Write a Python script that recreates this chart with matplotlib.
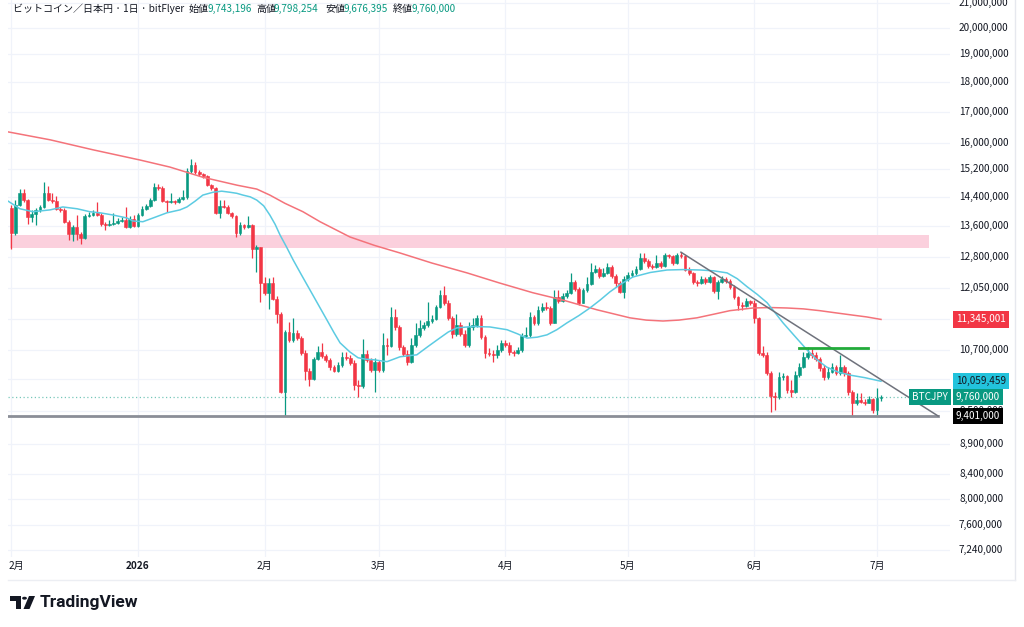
import numpy as np
import pandas as pd
import matplotlib
matplotlib.use("Agg")
import matplotlib.pyplot as plt
import matplotlib.transforms as mtrans
from matplotlib.patches import Polygon, Circle

plt.rcParams['font.family'] = ['Noto Sans CJK JP', 'DejaVu Sans']

# ---------------- data (prices in million JPY, daily candles) ----------------
start_date = "2025-12-01"

opens = [
    14.09, 13.42, 14.17, 14.51, 14.31, 13.85, 13.93, 14.04, 14.12, 14.51,
    14.31, 14.28, 14.07, 14.04, 13.72, 13.40, 13.58, 13.40, 13.29, 13.88,
    13.90, 13.96, 13.90, 13.66, 13.63, 13.66, 13.69, 13.74, 13.77, 13.58,
    13.80, 13.61, 13.90, 14.07, 14.15, 14.31, 14.68, 14.65, 14.28, 14.26,
    14.28, 14.26, 14.34, 14.40, 15.14, 15.32, 15.11, 15.05, 14.99, 14.73,
    14.65, 13.96, 14.15, 14.12, 13.96, 13.88, 13.42, 13.63, 13.58, 13.63,
    13.01, 13.06, 12.18, 11.95, 12.18, 11.81, 11.47, 9.85, 11.07, 10.90,
    11.05, 10.94, 10.63, 10.26, 10.10, 10.51, 10.65, 10.57, 10.49, 10.34,
    10.26, 10.38, 10.55, 10.53, 10.42, 9.99, 9.97, 10.61, 10.49, 10.28,
    10.45, 10.28, 10.80, 10.78, 11.40, 11.18, 10.76, 10.61, 10.45, 10.80,
    11.01, 11.16, 11.23, 11.31, 11.36, 11.63, 11.90, 11.72, 11.38, 11.03,
    11.23, 11.03, 10.80, 11.18, 11.23, 11.38, 10.97, 10.63, 10.61, 10.59,
    10.69, 10.84, 10.80, 10.65, 10.63, 10.69, 10.99, 11.01, 11.40, 11.27,
    11.56, 11.63, 11.60, 11.27, 11.85, 11.76, 11.88, 11.95, 12.20, 12.04,
    11.72, 12.02, 12.16, 12.44, 12.51, 12.35, 12.42, 12.56, 12.35, 12.18,
    11.97, 12.27, 12.37, 12.42, 12.51, 12.79, 12.71, 12.59, 12.56, 12.66,
    12.59, 12.86, 12.84, 12.66, 12.86, 12.84, 12.49, 12.42, 12.20, 12.18,
    12.27, 12.20, 12.32, 11.99, 12.20, 12.27, 12.23, 12.09, 11.85, 11.67,
    11.65, 11.76, 11.72, 11.38, 10.63, 10.59, 10.22, 9.78, 9.76, 10.14,
    10.16, 9.89, 9.85, 10.18, 10.34, 10.55, 10.63, 10.59, 10.51, 10.32,
    10.14, 10.24, 10.34, 10.22, 10.34, 10.22, 9.85, 9.65, 9.70, 9.66,
    9.65, 9.72, 9.51, 9.743196,
]
highs = [
    14.17, 14.31, 14.62, 14.62, 14.34, 14.04, 14.09, 14.17, 14.82, 14.70,
    14.51, 14.42, 14.12, 14.09, 13.77, 13.63, 13.90, 13.45, 13.93, 13.99,
    14.04, 14.26, 13.96, 13.72, 13.77, 13.96, 13.82, 13.85, 14.12, 13.88,
    13.90, 13.96, 14.15, 14.20, 14.37, 14.79, 14.76, 14.70, 14.31, 14.51,
    14.31, 14.40, 14.59, 15.23, 15.50, 15.41, 15.17, 15.08, 15.02, 14.76,
    14.68, 14.31, 14.31, 14.17, 13.99, 13.90, 13.72, 13.66, 13.88, 13.66,
    13.11, 13.06, 12.32, 12.30, 12.32, 11.88, 11.51, 11.12, 11.29, 11.38,
    11.12, 10.99, 10.69, 10.32, 10.55, 10.78, 10.84, 10.61, 10.53, 10.38,
    10.45, 10.65, 10.65, 10.59, 10.49, 10.08, 10.92, 10.69, 10.53, 10.53,
    10.49, 11.05, 10.94, 11.63, 11.58, 11.23, 10.80, 10.69, 10.94, 11.27,
    11.33, 11.29, 11.74, 11.44, 11.67, 12.02, 12.11, 11.78, 11.42, 11.47,
    11.29, 11.12, 11.29, 11.38, 11.44, 11.44, 11.01, 10.73, 10.69, 10.80,
    10.90, 10.90, 10.86, 10.69, 10.76, 11.05, 11.18, 11.51, 11.44, 11.65,
    11.72, 11.74, 11.65, 12.02, 12.02, 11.95, 12.02, 12.42, 12.25, 12.09,
    12.06, 12.32, 12.66, 12.61, 12.56, 12.54, 12.66, 12.61, 12.39, 12.23,
    12.35, 12.44, 12.49, 12.59, 12.91, 12.91, 12.76, 12.64, 12.86, 12.71,
    12.91, 12.89, 12.86, 12.91, 12.94, 12.86, 12.56, 12.44, 12.25, 12.35,
    12.32, 12.37, 12.35, 12.25, 12.35, 12.32, 12.27, 12.13, 11.88, 11.74,
    11.83, 11.78, 11.78, 11.40, 10.78, 10.65, 10.26, 9.85, 10.24, 10.22,
    10.18, 10.08, 10.26, 10.42, 10.65, 10.76, 10.73, 10.65, 10.55, 10.38,
    10.34, 10.42, 10.38, 10.59, 10.38, 10.26, 9.89, 9.83, 9.83, 9.72,
    9.78, 9.74, 9.93, 9.798254,
]
lows = [
    13.01, 13.37, 14.15, 14.26, 13.66, 13.72, 13.63, 13.99, 14.09, 14.28,
    14.23, 14.04, 13.99, 13.69, 13.24, 13.21, 13.24, 13.14, 13.27, 13.85,
    13.88, 13.88, 13.61, 13.50, 13.61, 13.63, 13.66, 13.72, 13.55, 13.55,
    13.58, 13.58, 13.88, 14.04, 14.12, 14.28, 14.59, 14.26, 13.99, 14.23,
    14.20, 14.23, 14.31, 14.34, 15.08, 15.05, 14.99, 14.94, 14.70, 14.59,
    13.93, 13.82, 14.09, 13.93, 13.82, 13.32, 13.37, 13.53, 13.55, 12.79,
    12.44, 11.74, 11.90, 11.58, 11.78, 11.27, 9.83, 9.40, 10.86, 10.86,
    10.90, 10.59, 10.08, 9.97, 10.08, 10.49, 10.53, 10.45, 10.28, 10.24,
    10.24, 10.34, 10.49, 10.38, 9.89, 9.76, 9.93, 10.45, 10.24, 9.85,
    10.24, 10.24, 10.59, 10.76, 11.12, 10.69, 10.57, 10.38, 10.42, 10.76,
    10.97, 11.12, 11.18, 11.27, 11.33, 11.60, 11.67, 11.33, 10.94, 10.99,
    10.99, 10.76, 10.76, 11.12, 11.18, 10.92, 10.53, 10.57, 10.45, 10.53,
    10.65, 10.76, 10.59, 10.57, 10.61, 10.65, 10.97, 10.97, 11.23, 11.23,
    11.51, 11.56, 11.23, 11.27, 11.72, 11.74, 11.83, 11.92, 11.99, 11.67,
    11.72, 11.97, 12.13, 12.42, 12.30, 12.32, 12.39, 12.30, 12.09, 11.95,
    11.83, 12.23, 12.32, 12.37, 12.49, 12.66, 12.54, 12.51, 12.54, 12.54,
    12.56, 12.79, 12.61, 12.64, 12.79, 12.47, 12.37, 12.16, 12.11, 12.16,
    12.16, 12.18, 11.95, 11.81, 12.18, 12.18, 12.04, 11.81, 11.56, 11.56,
    11.63, 11.67, 11.27, 10.59, 10.55, 10.18, 9.47, 9.51, 9.72, 10.08,
    9.83, 9.76, 9.83, 10.14, 10.32, 10.51, 10.53, 10.47, 10.26, 10.08,
    10.10, 10.22, 10.18, 10.18, 10.16, 9.80, 9.40, 9.61, 9.65, 9.61,
    9.65, 9.45, 9.42, 9.676395,
]
closes = [
    13.42, 14.17, 14.51, 14.31, 13.85, 13.93, 14.04, 14.12, 14.51, 14.31,
    14.28, 14.07, 14.04, 13.72, 13.40, 13.58, 13.40, 13.29, 13.88, 13.90,
    13.96, 13.90, 13.66, 13.63, 13.66, 13.69, 13.74, 13.77, 13.58, 13.80,
    13.61, 13.90, 14.07, 14.15, 14.31, 14.68, 14.65, 14.28, 14.26, 14.28,
    14.26, 14.34, 14.40, 15.14, 15.32, 15.11, 15.05, 14.99, 14.73, 14.65,
    13.96, 14.15, 14.12, 13.96, 13.88, 13.42, 13.63, 13.58, 13.63, 13.01,
    13.06, 12.18, 11.95, 12.18, 11.81, 11.47, 9.85, 11.07, 10.90, 11.05,
    10.94, 10.63, 10.26, 10.10, 10.51, 10.65, 10.57, 10.49, 10.34, 10.26,
    10.38, 10.55, 10.53, 10.42, 9.99, 9.97, 10.61, 10.49, 10.28, 10.45,
    10.28, 10.80, 10.78, 11.40, 11.18, 10.76, 10.61, 10.45, 10.80, 11.01,
    11.16, 11.23, 11.31, 11.36, 11.63, 11.90, 11.72, 11.38, 11.03, 11.23,
    11.03, 10.80, 11.18, 11.23, 11.38, 10.97, 10.63, 10.61, 10.59, 10.69,
    10.84, 10.80, 10.65, 10.63, 10.69, 10.99, 11.01, 11.40, 11.27, 11.56,
    11.63, 11.60, 11.27, 11.85, 11.76, 11.88, 11.95, 12.20, 12.04, 11.72,
    12.02, 12.16, 12.44, 12.51, 12.35, 12.42, 12.56, 12.35, 12.18, 11.97,
    12.27, 12.37, 12.42, 12.51, 12.79, 12.71, 12.59, 12.56, 12.66, 12.59,
    12.86, 12.84, 12.66, 12.86, 12.84, 12.49, 12.42, 12.20, 12.18, 12.27,
    12.20, 12.32, 11.99, 12.20, 12.27, 12.23, 12.09, 11.85, 11.67, 11.65,
    11.76, 11.72, 11.38, 10.63, 10.59, 10.22, 9.78, 9.76, 10.14, 10.16,
    9.89, 9.85, 10.18, 10.34, 10.55, 10.63, 10.59, 10.51, 10.32, 10.14,
    10.24, 10.34, 10.22, 10.34, 10.22, 9.85, 9.65, 9.70, 9.66, 9.65,
    9.72, 9.51, 9.743196, 9.76,
]

# moving averages (day index, value)
ma_short_day = [-0.8, 2.1, 5.3, 9.5, 12.6, 16.1, 19.2, 21.7, 24.9, 28.3, 29.8, 32.2, 34.7,
                38.1, 41.3, 43.0, 45.0, 46.9, 49.4, 51.5, 53.5, 55.2, 56.7, 58.5, 60.1,
                61.8, 63.3, 64.6, 65.8, 67.4, 69.0, 71.0, 73.1, 75.2, 77.3, 79.0, 80.5,
                82.9, 84.9, 86.8, 88.6, 92.0, 95.2, 99.3, 102.0, 104.9, 107.0, 109.1,
                113.0, 117.2, 121.4, 124.0, 126.3, 128.8, 131.2, 133.6, 136.1, 139.0,
                141.7, 144.2, 146.6, 149.4, 152.2, 156.5, 160.6, 164.5, 168.7, 172.0,
                175.3, 177.8, 180.2, 182.7, 185.1, 187.0, 189.0, 192.0, 194.9, 197.3,
                199.7, 202.5, 205.4, 209.0, 213.0]
ma_short_val = [14.28, 14.07, 13.99, 14.04, 14.12, 14.07, 13.99, 13.96, 13.90, 13.82, 13.74,
                13.72, 13.82, 13.96, 14.04, 14.12, 14.28, 14.45, 14.53, 14.56, 14.53, 14.50,
                14.45, 14.40, 14.31, 14.15, 13.90, 13.65, 13.37, 13.06, 12.74, 12.38, 12.02,
                11.67, 11.33, 11.06, 10.84, 10.65, 10.53, 10.50, 10.49, 10.45, 10.55, 10.59,
                10.76, 10.94, 11.07, 11.16, 11.19, 11.18, 11.12, 11.03, 10.94, 10.96, 11.01,
                11.12, 11.27, 11.43, 11.60, 11.78, 11.97, 12.16, 12.32, 12.43, 12.49, 12.50,
                12.49, 12.47, 12.42, 12.28, 12.09, 11.91, 11.72, 11.50, 11.27, 10.97, 10.69,
                10.49, 10.34, 10.24, 10.18, 10.13, 10.059459]
ma_long_day = [-0.8, 9.5, 20.0, 31.5, 38.8, 46.9, 55.3, 60.1, 63.3, 67.0, 71.4, 75.6, 82.9,
               89.0, 95.2, 103.0, 111.6, 119.5, 127.7, 135.1, 143.4, 151.5, 155.5, 159.6,
               163.5, 167.9, 172.0, 176.0, 181.6, 186.0, 190.0, 194.0, 198.0, 202.0, 206.1,
               209.5, 213.0]
ma_long_val = [16.34, 16.09, 15.78, 15.47, 15.26, 14.96, 14.73, 14.62, 14.45, 14.22, 13.99,
               13.72, 13.32, 13.10, 12.91, 12.66, 12.42, 12.18, 11.95, 11.78, 11.56, 11.38,
               11.33, 11.31, 11.33, 11.38, 11.46, 11.54, 11.60, 11.61, 11.60, 11.58, 11.54,
               11.49, 11.44, 11.40, 11.345001]

zone_low, zone_high = 13.03, 13.36
zone_days = (-0.35, 224.7)
trend_days = (164, 227)
trend_vals = (12.93, 9.401)
green_level = 10.74
green_days = (193, 209.8)
support_level = 9.401
support_end_day = 227

price_ticks = [21.0, 20.0, 19.0, 18.0, 17.0, 16.0, 15.2, 14.4, 13.6, 12.8, 12.05,
               10.7, 9.5, 8.9, 8.4, 8.0, 7.6, 7.24]
grid_extra = [11.35, 10.1]
month_dates = ["2025-12-01", "2026-01-01", "2026-02-01", "2026-03-01", "2026-04-01",
               "2026-05-01", "2026-06-01", "2026-07-01"]
month_labels = ["2月", "2026", "2月", "3月", "4月", "5月", "6月", "7月"]

# ---------------- figure ----------------
W, H = 1024, 627
M = 1e6
UP, DN = "#089981", "#f23645"
TXT = "#131722"
GRID = "#f0f3fa"

fig = plt.figure(figsize=(W / 100, H / 100), dpi=100, facecolor="white")
ax = fig.add_axes([8 / W, 1 - 557 / H, 942 / W, 557 / H])
ax.set_yscale("log")
ax.set_ylim(7.146 * M, 21.12 * M)
ax.set_xlim(-0.83, 229.9)
for s in ax.spines.values():
    s.set_visible(False)
ax.set_xticks([])
ax.set_yticks([])
ax.yaxis.set_minor_locator(matplotlib.ticker.NullLocator())

o = np.array(opens) * M
h = np.array(highs) * M
l = np.array(lows) * M
c = np.array(closes) * M
n = len(c)
dates = pd.date_range(start_date, periods=n, freq="D")
x = np.arange(n)
t0 = pd.Timestamp(start_date)
month_idx = [(pd.Timestamp(d) - t0).days for d in month_dates]

# grid
for p in price_ticks + grid_extra:
    ax.axhline(p * M, color=GRID, lw=0.9, zorder=0)
for mi in month_idx:
    ax.axvline(mi, color=GRID, lw=0.9, zorder=0)

# zone
ax.fill_between(list(zone_days), zone_low * M, zone_high * M, color="#fbd0dd", lw=0, zorder=1)

# MAs
ax.plot(ma_long_day, np.array(ma_long_val) * M, color="#f4737a", lw=1.1, zorder=5)
ax.plot(ma_short_day, np.array(ma_short_val) * M, color="#5ccbe2", lw=1.1, zorder=5)

# candles
up = c >= o
cols = np.where(up, UP, DN)
ax.vlines(x, l, h, colors=cols, lw=0.9, zorder=3)
ax.bar(x, np.abs(c - o), bottom=np.minimum(o, c), width=0.68, color=cols,
       edgecolor=cols, linewidth=0.4, zorder=4)

# last price dotted line
ax.axhline(c[-1], color=UP, ls=(0, (1, 2)), lw=0.9, alpha=0.55, zorder=2)

# support line
ax.plot([ax.get_xlim()[0], support_end_day], [support_level * M] * 2, color="#8b8e97", lw=2.0, zorder=6)
# trend line
ax.plot(list(trend_days), np.array(trend_vals) * M, color="#6f727c", lw=1.1, zorder=6)
# green level
ax.plot(list(green_days), [green_level * M] * 2, color="#22ab3a", lw=2.0, zorder=6)

# ---------------- price axis ----------------
ytr = mtrans.blended_transform_factory(fig.transFigure, ax.transData)
for p in price_ticks:
    ax.text(959 / W, p * M, f"{round(p * M):,}", transform=ytr, ha="left", va="center",
            fontsize=7.2, color=TXT, clip_on=False, zorder=10)

def tag(val, fc, tc):
    ax.text(956 / W, val, f"{round(val):,}", transform=ytr, ha="left",
            va="center", fontsize=7.2, color=tc, clip_on=False, zorder=20,
            bbox=dict(boxstyle="square,pad=0.32", fc=fc, ec="none"))

tag(ma_long_val[-1] * M, "#f23645", "white")
tag(ma_short_val[-1] * M, "#22c3dc", TXT)
tag(c[-1], UP, "white")
tag(support_level * M, "#000000", "white")
ax.text(948 / W, c[-1], "BTCJPY", transform=ytr, ha="right", va="center", fontsize=7.2,
        color="white", clip_on=False, zorder=20,
        bbox=dict(boxstyle="square,pad=0.32", fc=UP, ec="none"))

# ---------------- time axis ----------------
xtr = mtrans.blended_transform_factory(ax.transData, fig.transFigure)
for k, (mi, lab) in enumerate(zip(month_idx, month_labels)):
    if k == 0:
        ax.text(ax.get_xlim()[0] + 0.2, 1 - 566 / H, lab, transform=xtr, ha="left", va="center",
                fontsize=7.2, color=TXT, clip_on=False)
    else:
        ax.text(mi, 1 - 566 / H, lab, transform=xtr, ha="center", va="center",
                fontsize=7.2, color=TXT, clip_on=False,
                fontweight="bold" if lab == "2026" else "normal")

# frame lines
fig.add_artist(plt.Line2D([1015 / W, 1015 / W], [1 - 580 / H, 1], transform=fig.transFigure,
                          color="#e6e8ee", lw=1))
fig.add_artist(plt.Line2D([8 / W, 1015 / W], [1 - 580 / H, 1 - 580 / H], transform=fig.transFigure,
                          color="#eceef3", lw=1))

# ---------------- title ----------------
def ftext(xp, yp, s, **kw):
    fig.text(xp / W, 1 - yp / H, s, va="center", ha="left", fontsize=7.2, **kw)

ftext(13, 9, "ビットコイン／日本円 · 1日 · bitFlyer", color=TXT)
pieces = [("始値", o[-1], 189), ("高値", h[-1], 256), ("安値", l[-1], 325), ("終値", c[-1], 393)]
for lab, v, xp in pieces:
    ftext(xp, 9, lab, color=TXT)
    ftext(xp + 18, 9, f"{round(v):,}", color=UP)

# ---------------- TradingView logo ----------------
def P(xp, yp):
    return (xp / W, 1 - yp / H)

fig.add_artist(Polygon([P(10, 596), P(21, 596), P(21, 609), P(16, 609), P(16, 601), P(10, 601)],
                       closed=True, transform=fig.transFigure, fc=TXT, ec="none"))
fig.add_artist(Circle(P(24.5, 598.2), 2.4 / W, transform=fig.transFigure, fc=TXT, ec="none"))
fig.add_artist(Polygon([P(29, 596), P(35, 596), P(29.5, 609), P(23.5, 609)],
                       closed=True, transform=fig.transFigure, fc=TXT, ec="none"))
fig.text(40 / W, 1 - 602 / H, "TradingView", fontsize=12.5, fontweight="bold",
         family=["Roboto", "DejaVu Sans"], color=TXT, va="center", ha="left")

fig.savefig("out.png", dpi=100, facecolor="white")
